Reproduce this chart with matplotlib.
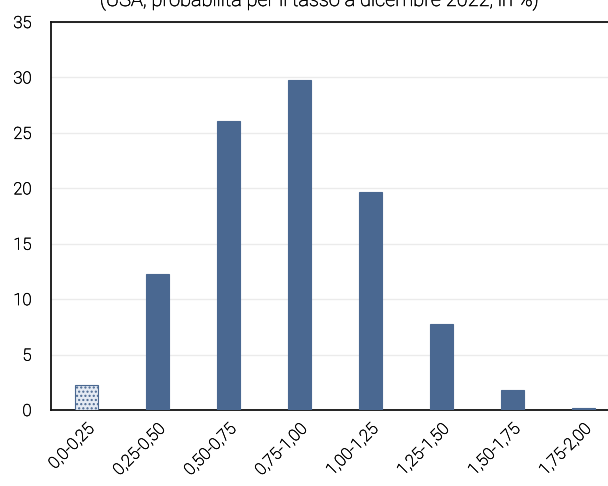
import matplotlib.pyplot as plt
import matplotlib.patheffects as pe

# distribuzione di probabilità per classi di tasso
classi = ['0,0-0,25', '0,25-0,50', '0,50-0,75', '0,75-1,00',
          '1,00-1,25', '1,25-1,50', '1,50-1,75', '1,75-2,00']
prob = [2.3, 12.3, 26.1, 29.8, 19.7, 7.8, 1.8, 0.2]
yticks = [0, 5, 10, 15, 20, 25, 30, 35]

blu = '#4a6891'
testo = '#000000'
# il peso light resta leggibile con un filo di contorno
spessore = [pe.withStroke(linewidth=0.35, foreground=testo)]

plt.rcParams['font.family'] = ['Roboto', 'DejaVu Sans']
fig = plt.figure(figsize=(6.08, 4.86), dpi=100)
ax = fig.add_axes([51 / 608, 76 / 486, 568 / 608, 388 / 486])

x = list(range(len(classi)))
bars = ax.bar(x, prob, width=0.31, color=blu, edgecolor=blu, linewidth=0.8, zorder=3)
# la prima classe è evidenziata con un retino a punti
bars[0].set_facecolor('#e4eaf3')
bars[0].set_hatch('....')

ax.set_xlim(-0.5, 7.5)
ax.set_ylim(0, 35)
ax.set_yticks(yticks)
ax.set_xticks(x)
ax.set_xticklabels(classi, rotation=45, ha='right', rotation_mode='anchor')
ax.tick_params(axis='both', length=0, labelsize=12, colors=testo)
ax.tick_params(axis='y', pad=14)
ax.tick_params(axis='x', pad=8)
for lab in ax.get_xticklabels() + ax.get_yticklabels():
    lab.set_fontweight('light')
    lab.set_path_effects(spessore)

ax.grid(axis='y', color='#ebebeb', linewidth=1, zorder=0)
for side in ['left', 'bottom', 'top']:
    ax.spines[side].set_linewidth(1.3)
    ax.spines[side].set_color('#111111')
ax.spines['right'].set_visible(False)

fig.text(319 / 608, 1 - 6 / 486, '(USA, probabilità per il tasso a dicembre 2022; in %)',
         ha='center', va='baseline', fontsize=14.4, fontweight='light', color=testo,
         path_effects=spessore)

fig.savefig('out.png', dpi=100)
